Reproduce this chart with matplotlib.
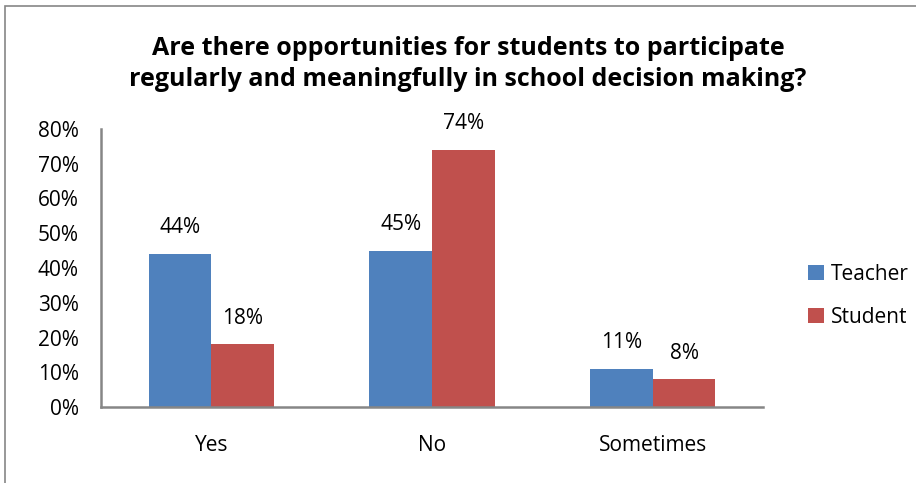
import numpy as np
import matplotlib.pyplot as plt
from matplotlib.patches import Rectangle

categories = ["Yes", "No", "Sometimes"]
teacher = [0.44, 0.45, 0.11]
student = [0.18, 0.74, 0.08]
yticks = [0, 0.1, 0.2, 0.3, 0.4, 0.5, 0.6, 0.7, 0.8]

plt.rcParams["font.family"] = ["Open Sans", "DejaVu Sans"]
fs = 15

fig = plt.figure(figsize=(9.16, 4.83), dpi=100)
ax = fig.add_axes([101 / 916, 76 / 483, 662 / 916, 278 / 483])

# outer chart frame (runs off the right and bottom edges)
fig.add_artist(Rectangle((5 / 916, -0.1), 1.2, (483 - 6) / 483 + 0.1,
                         transform=fig.transFigure, fill=False,
                         edgecolor="#868686", linewidth=1.2))

x = np.arange(len(categories))
w = 0.284
b1 = ax.bar(x - w / 2, teacher, w, color="#4F81BD", label="Teacher")
b2 = ax.bar(x + w / 2, student, w, color="#C0504D", label="Student")

for bars, vals in ((b1, teacher), (b2, student)):
    for bar, v in zip(bars, vals):
        ax.text(bar.get_x() + bar.get_width() / 2, v + 0.045, f"{round(v * 100)}%",
                ha="center", va="bottom", fontsize=fs)

ax.set_xlim(-0.5, 2.5)
ax.set_ylim(0, 0.8)
ax.set_yticks(yticks)
ax.set_yticklabels([f"{round(t * 100)}%" for t in yticks], fontsize=fs)
ax.set_xticks(x)
ax.set_xticklabels(categories, fontsize=fs)
ax.tick_params(length=0)
ax.tick_params(axis="x", pad=20)
ax.tick_params(axis="y", pad=16)

for s in ("top", "right"):
    ax.spines[s].set_visible(False)
for s in ("left", "bottom"):
    ax.spines[s].set_color("#868686")
    ax.spines[s].set_linewidth(1.8)

fig.text(468 / 916, 1 - 64 / 483,
         "Are there opportunities for students to participate\n"
         "regularly and meaningfully in school decision making?",
         ha="center", va="center", fontsize=18, fontweight="bold",
         linespacing=1.3)

fig.legend(handles=[b1, b2], loc="center left",
           bbox_to_anchor=(798 / 916, 1 - 296 / 483), frameon=False,
           fontsize=fs, handlelength=0.75, handleheight=0.75,
           handletextpad=0.35, labelspacing=1.05, borderpad=0)

fig.savefig("out.png", dpi=100)
